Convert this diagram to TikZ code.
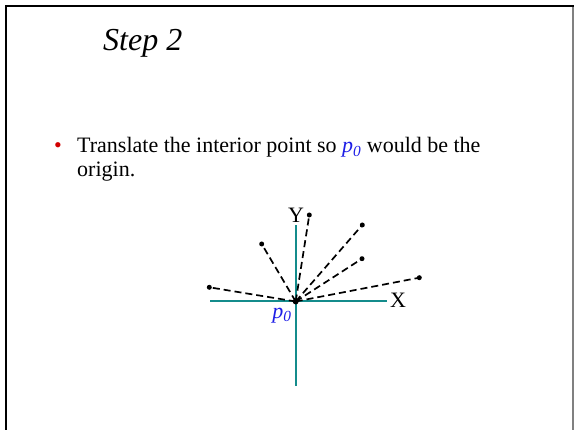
\documentclass[tikz,border=0pt]{standalone}
\usepackage{fontspec}
\setmainfont{Liberation Serif}
\definecolor{axisteal}{RGB}{20,140,140}
\definecolor{pblue}{RGB}{30,30,230}
\definecolor{bulletred}{RGB}{210,0,0}
\begin{document}
\begin{tikzpicture}[x=1pt,y=1pt,
  axis/.style={draw=axisteal,line width=2pt},
  ray/.style={draw=black,line width=1.7pt,dash pattern=on 7pt off 4pt},
  pt/.style={circle,fill=black,inner sep=0pt,minimum size=5pt},
  lbl/.style={font=\fontsize{22}{26}\selectfont,inner sep=0pt}]
\useasboundingbox (0,0) rectangle (574,430);
% frame
\draw[line width=2.2pt,black] (6,0) -- (6,424) -- (574,424);
\draw[line width=1.2pt,gray] (573,423) -- (573,0);
% title
\node[anchor=base west,inner sep=0pt,font=\fontsize{32}{38}\selectfont\itshape] (title) at (103,379) {Step 2};
% bullet
\node[anchor=base,inner sep=0pt,text=bulletred,font=\fontsize{22}{26}\selectfont] (bul) at (58,277) {•};
\node[anchor=base west,lbl] (l1) at (77,277) {Translate the interior point so \textcolor{pblue}{\textit{p\textsubscript{0}}} would be the};
\node[anchor=base west,lbl] (l2) at (77,253) {origin.};
% axes
\coordinate (o) at (295.7,128.5);
\coordinate (xl) at (210,128.5);
\coordinate (xr) at (387,128.5);
\coordinate (yt) at (295.7,205);
\coordinate (yb) at (295.7,44);
\draw[axis] (xl) -- (xr);
\draw[axis] (yb) -- (yt);
% points
\node[pt] (a) at (309.3,215) {};
\node[pt] (b) at (362.3,205) {};
\node[pt] (c) at (261.7,186) {};
\node[pt] (d) at (362,171.3) {};
\node[pt] (e) at (419.3,152.3) {};
\node[pt] (f) at (209.3,142.7) {};
\node[pt,minimum size=6pt] (p) at (o) {};
\foreach \q in {a,b,c,d,e,f} \draw[ray] (p.center) -- (\q.center);
% labels
\node[lbl] (ylab) at (296,215) {Y};
\node[lbl] (xlab) at (398,129.3) {X};
\node[lbl,text=pblue,font=\fontsize{22}{26}\selectfont\itshape] (plab) at (282,114) {p\textsubscript{0}};
\end{tikzpicture}
\end{document}
